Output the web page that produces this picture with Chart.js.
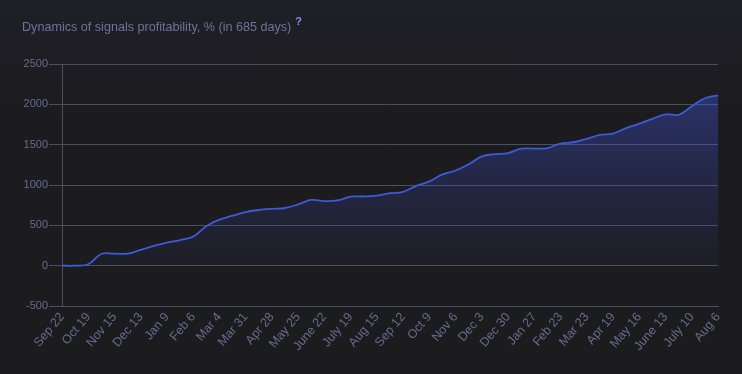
<!DOCTYPE html>
<html>
<head>
<meta charset="utf-8">
<script src="https://cdn.jsdelivr.net/npm/chart.js@4/dist/chart.umd.min.js"></script>
<style>
  html, body { margin: 0; padding: 0; background: #1c1c1e; }
  #wrap { position: relative; width: 742px; height: 374px; overflow: hidden;
          background: linear-gradient(#1f1f27 0px, #1d1d22 60px, #1c1c1e 120px); }
  #title { position: absolute; left: 22px; top: 16px; font-family: "Liberation Sans", Arial, sans-serif;
           font-size: 12.6px; color: #6c749c; white-space: nowrap; }
  #title sup { color: #7d92e8; font-size: 11px; margin-left: 4px; position: relative; top: -1px; font-weight: bold; }
  canvas { position: absolute; left: 0; top: 0; }
</style>
</head>
<body>
<div id="wrap">
  <canvas id="c" width="742" height="374"></canvas>
  <div id="title">Dynamics of signals profitability, % (in 685 days)<sup>?</sup></div>
</div>
<script>
// Tick labels shown on the x axis (every second data point)
const tickLabels = ["Sep 22","Oct 19","Nov 15","Dec 13","Jan 9","Feb 6","Mar 4","Mar 31","Apr 28","May 25",
  "June 22","July 19","Aug 15","Sep 12","Oct 9","Nov 6","Dec 3","Dec 30","Jan 27","Feb 23","Mar 23",
  "Apr 19","May 16","June 13","July 10","Aug 6"];

// Profitability, % (one point roughly every 13.7 days)
const profit = [0, 0, 18, 145, 148, 150, 195, 245, 285, 318,
  360, 490, 570, 620, 665, 690, 705, 715, 760, 815,
  800, 808, 856, 858, 868, 898, 915, 990, 1045, 1132,
  1180, 1257, 1355, 1383, 1395, 1450, 1452, 1458, 1514, 1530,
  1572, 1620, 1638, 1705, 1760, 1820, 1876, 1870, 1975, 2075, 2112];

const yTicks = [2500, 2000, 1500, 1000, 500, 0, -500];

// categories: tick label at even points, intermediate points unlabeled
const categories = profit.map((v, i) => (i % 2 === 0 ? tickLabels[i / 2] : ""));

const ctx = document.getElementById("c").getContext("2d");
const FONT = "'Liberation Sans', Arial, sans-serif";

new Chart(ctx, {
  type: "line",
  data: {
    labels: categories,
    datasets: [{
      data: profit,
      borderColor: "#3d5ad8",
      borderWidth: 1.8,
      pointRadius: 0,
      pointHoverRadius: 0,
      tension: 0.4,
      fill: "origin",
      backgroundColor: (c) => {
        const chart = c.chart;
        const area = chart.chartArea;
        if (!area) return "rgba(61,84,208,0.2)";
        const y0 = chart.scales.y.getPixelForValue(0);
        const g = chart.ctx.createLinearGradient(0, area.top, 0, y0);
        g.addColorStop(0, "rgba(64,84,215,0.48)");
        g.addColorStop(0.6, "rgba(64,84,215,0.2)");
        g.addColorStop(1, "rgba(64,84,215,0.03)");
        return g;
      }
    }]
  },
  options: {
    responsive: false,
    animation: false,
    events: [],
    layout: { padding: { top: 64, right: 24, left: 0, bottom: 0 } },
    plugins: { legend: { display: false }, tooltip: { enabled: false }, title: { display: false } },
    scales: {
      x: {
        grid: { display: false, drawTicks: false },
        border: { display: true, color: "#4c4f64", width: 1 },
        ticks: {
          autoSkip: false,
          maxRotation: 50,
          minRotation: 50,
          color: "#646c8f",
          font: { family: FONT, size: 12.5 },
          padding: 4
        },
        afterFit: (s) => { s.height = 68; }
      },
      y: {
        min: -500,
        max: 2500,
        afterBuildTicks: (s) => { s.ticks = yTicks.map(v => ({ value: v })); },
        grid: { color: "#4c4f64", lineWidth: 1, tickLength: 13, drawTicks: true },
        border: { display: true, color: "#4c4f64", width: 1 },
        ticks: {
          color: "#646c8f",
          font: { family: FONT, size: 11 },
          padding: 1,
          callback: (v) => String(v)
        },
        afterFit: (s) => { s.width = 62; }
      }
    }
  }
});
</script>
</body>
</html>
